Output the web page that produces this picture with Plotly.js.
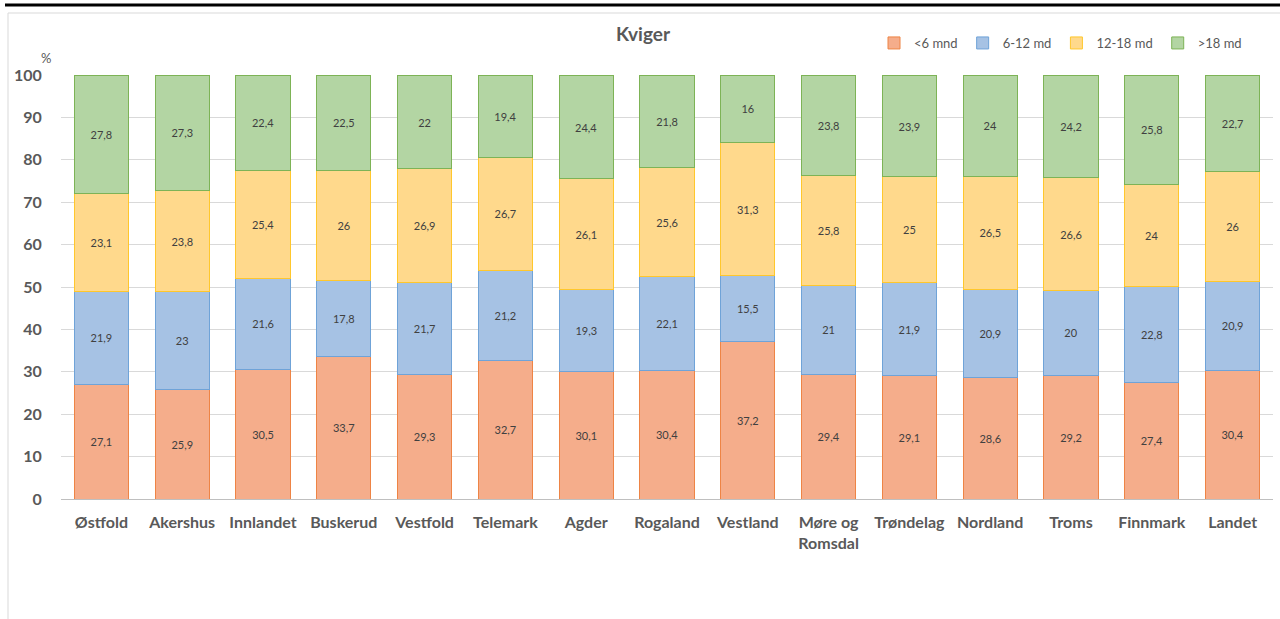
<!DOCTYPE html>
<html><head><meta charset="utf-8">
<script src="https://cdn.plot.ly/plotly-3.0.1.min.js"></script>
<style>html,body{margin:0;padding:0;background:#fff}#c{width:1280px;height:619px}</style>
</head><body><div id="c"></div>
<script>
const categories = ["Østfold","Akershus","Innlandet","Buskerud","Vestfold","Telemark","Agder","Rogaland","Vestland","Møre og<br>Romsdal","Trøndelag","Nordland","Troms","Finnmark","Landet"];
const under6 = [27.1,25.9,30.5,33.7,29.3,32.7,30.1,30.4,37.2,29.4,29.1,28.6,29.2,27.4,30.4];
const m6to12 = [21.9,23,21.6,17.8,21.7,21.2,19.3,22.1,15.5,21,21.9,20.9,20,22.8,20.9];
const m12to18 = [23.1,23.8,25.4,26,26.9,26.7,26.1,25.6,31.3,25.8,25,26.5,26.6,24,26];
const over18 = [27.8,27.3,22.4,22.5,22,19.4,24.4,21.8,16,23.8,23.9,24,24.2,25.8,22.7];
const seriesNames = ["<6 mnd","6-12 md","12-18 md",">18 md"];
const yTicks = [0,10,20,30,40,50,60,70,80,90,100];

const fills = ["#F5AD8B","#A6C2E4","#FFD98C","#B3D5A3"];
const lines = ["#EE8445","#6FA3D8","#FFC72C","#7DB356"];
const allSeries = [under6, m6to12, m12to18, over18];

const traces = allSeries.map((vals, i) => ({
  type: "bar",
  name: seriesNames[i],
  x: categories,
  y: vals,
  text: vals.map(v => String(v).replace(".", ",")),
  textposition: "inside",
  insidetextanchor: "middle",
  textangle: 0,
  constraintext: "none",
  textfont: {family: "Lato, 'Open Sans', sans-serif", size: 11, color: "#404040"},
  marker: {color: fills[i], line: {color: lines[i], width: 1}},
  width: 0.67,
  hoverinfo: "skip"
}));

const L = 61, R = 1273, T = 75, B = 499;
const px = x => (x - L) / (R - L);
const py = y => (B - y) / (B - T);

const layout = {
  width: 1280, height: 619,
  margin: {l: L, r: 1280 - R, t: T, b: 619 - B},
  paper_bgcolor: "#fff", plot_bgcolor: "#fff",
  barmode: "stack",
  bargap: 0.33,
  font: {family: "Lato, 'Open Sans', sans-serif", color: "#595959"},
  title: {text: "<b>Kviger</b>", x: px(643), xanchor: "center", xref: "paper", y: 1 - 34/619, yanchor: "middle", font: {size: 19, color: "#595959"}},
  showlegend: true,
  legend: {orientation: "h", x: px(874), xanchor: "left", y: py(43), yanchor: "middle", font: {size: 13, color: "#595959"}, traceorder: "normal", itemwidth: 30, bgcolor: "rgba(0,0,0,0)"},
  xaxis: {
    type: "category",
    tickfont: {size: 16, color: "#595959"},
    tickprefix: "<b>", ticksuffix: "</b>",
    showgrid: false, showline: false, zeroline: false,
    ticks: "outside", ticklen: 9, tickcolor: "rgba(0,0,0,0)",
    fixedrange: true
  },
  yaxis: {
    range: [0, 100],
    tickvals: yTicks,
    ticktext: yTicks.map(v => "<b>" + v + "</b>"),
    tickfont: {size: 16, color: "#595959"},
    showgrid: true, gridcolor: "#D9D9D9", gridwidth: 1,
    zeroline: true, zerolinecolor: "#BFBFBF", zerolinewidth: 1,
    showline: false, ticks: "outside", ticklen: 15, tickcolor: "rgba(0,0,0,0)",
    fixedrange: true
  },
  annotations: [
    {text: "%", xref: "paper", yref: "paper", x: px(46), y: py(58), xanchor: "center", yanchor: "middle", showarrow: false, font: {size: 13, color: "#595959"}}
  ],
  shapes: [
    {type: "line", xref: "paper", yref: "paper", x0: px(5), x1: px(1280), y0: py(5), y1: py(5), line: {color: "#000", width: 3}},
    {type: "line", xref: "paper", yref: "paper", x0: px(8), x1: px(1280), y0: py(13), y1: py(13), line: {color: "#D9D9D9", width: 1}},
    {type: "line", xref: "paper", yref: "paper", x0: px(8), x1: px(8), y0: py(13), y1: py(619), line: {color: "#D9D9D9", width: 1}}
  ]
};

Plotly.newPlot("c", traces, layout, {staticPlot: true, displayModeBar: false});
</script>
</body></html>
